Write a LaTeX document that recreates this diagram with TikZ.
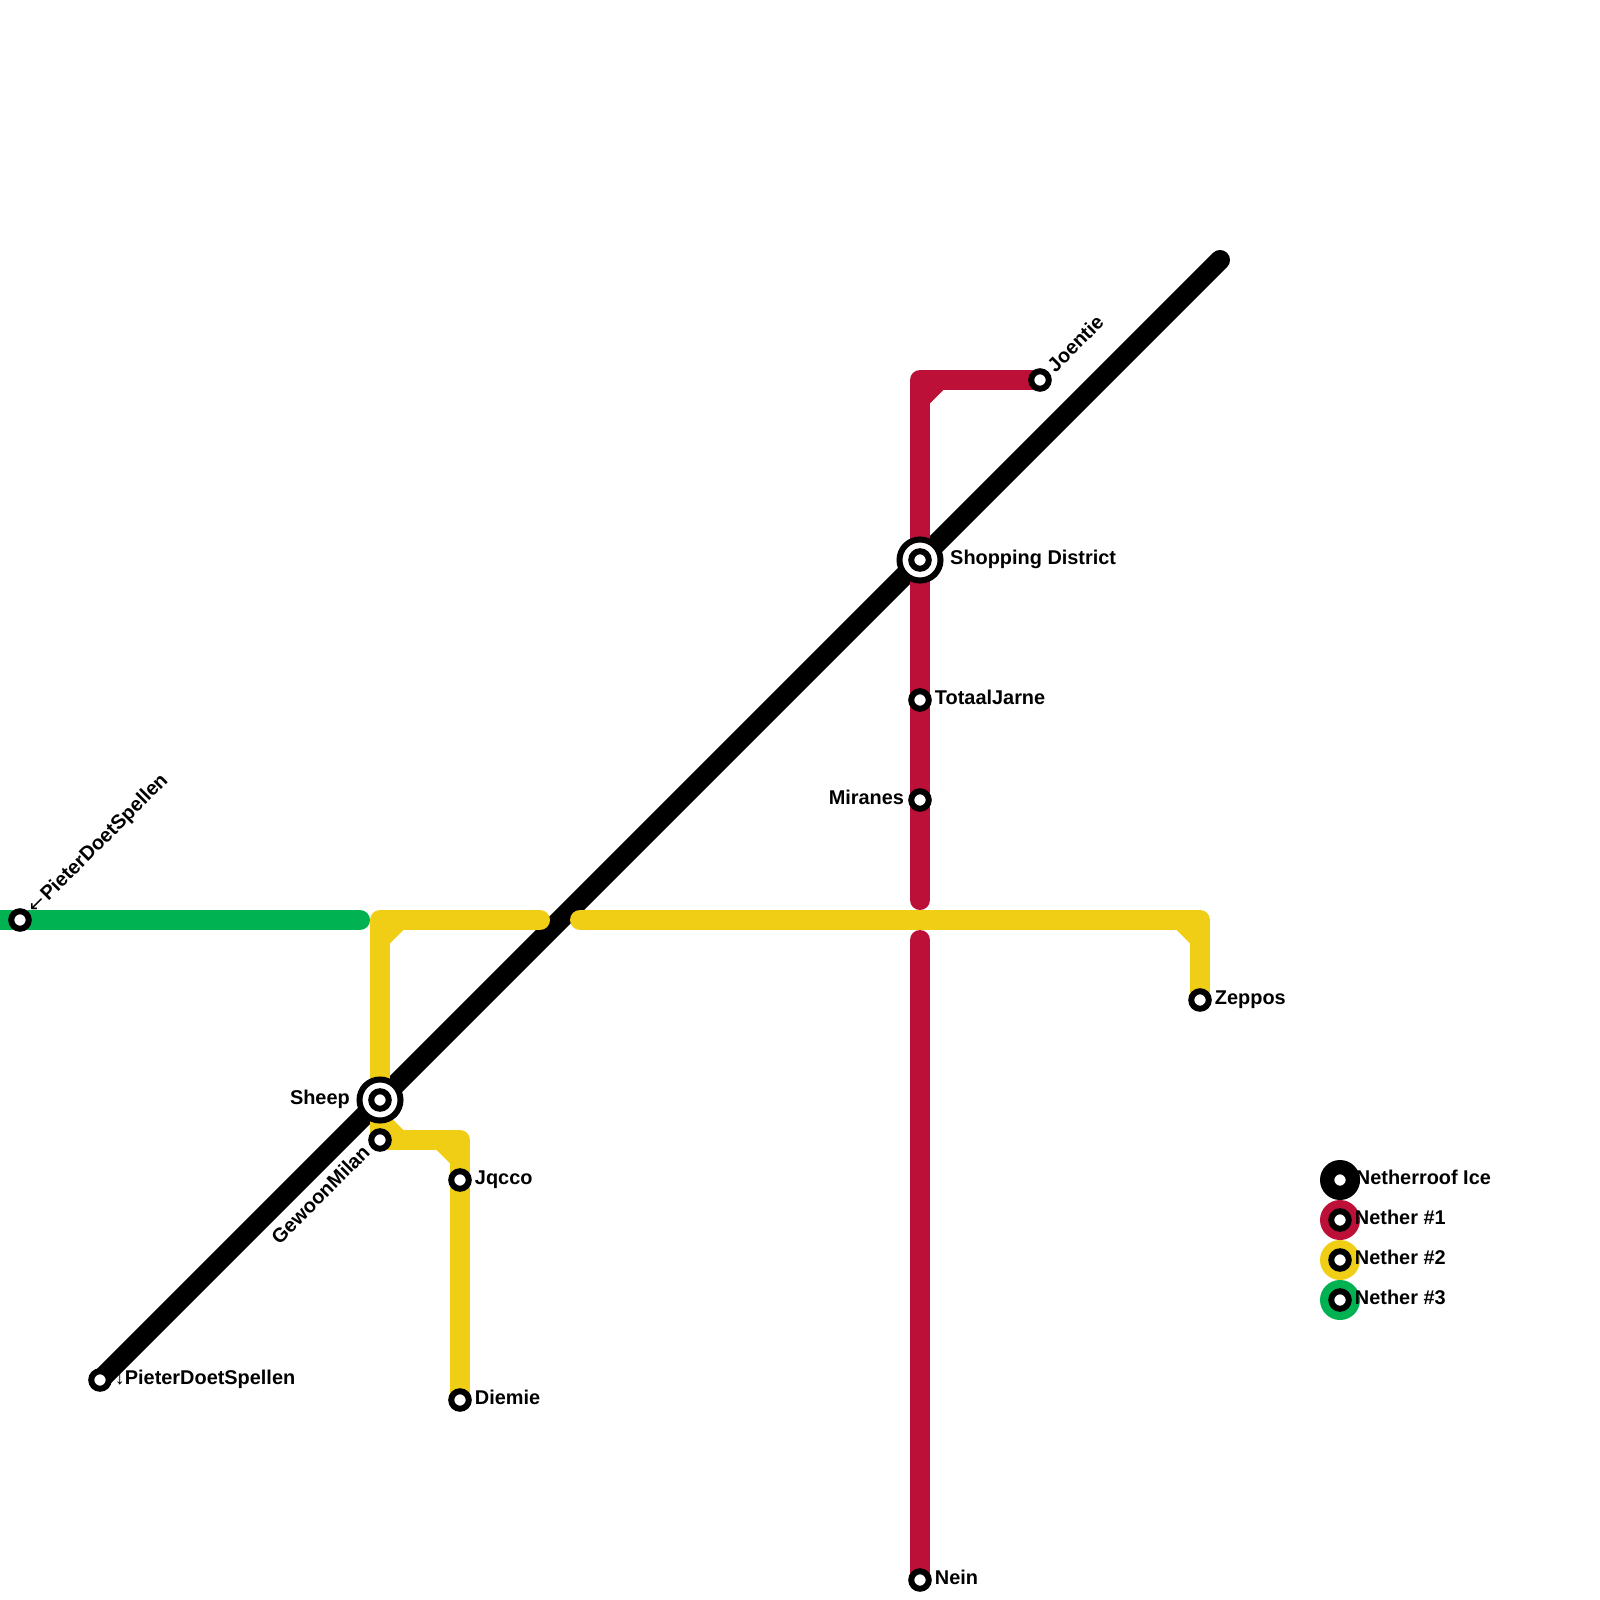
\documentclass[tikz,border=0pt]{standalone}
\usepackage{fontspec}
\setmainfont{Liberation Sans}
\newfontfamily\arrowfont{DejaVu Sans}
\usetikzlibrary{positioning, backgrounds}
\definecolor{netherred}{HTML}{BD1038}
\definecolor{netheryellow}{HTML}{F0CE15}
\definecolor{nethergreen}{HTML}{00B251}
\tikzstyle{station} = [circle,
minimum size=0.175cm,
inner sep=0pt,
line width=0.06cm,
draw=black,
fill=white]
\tikzstyle{interchange} = [circle,
minimum size=0.41cm,
inner sep=0pt,
line width=0.06cm,
draw=black,
fill=white]
\tikzstyle{legendring} = [circle,
minimum size=0.40cm,
inner sep=0pt]
\tikzstyle{maplabel} = [inner sep=0pt,
text height=0.145cm,
text depth=0.05cm,
font=\fontsize{5.66}{6}\selectfont\bfseries]
\tikzstyle{metroline} = [line width=0.2cm, line cap=round, line join=round]

\begin{document}
\begin{tikzpicture}[x=0.01cm, y=-0.01cm]
\useasboundingbox (0,0) rectangle (1600,1600);
\clip (0,0) rectangle (1600,1600);

% Line ends
\coordinate (greenstart) at (0,920);
\coordinate (greenend) at (360,920);
\coordinate (yellowwest) at (540,920);
\coordinate (yelloweast) at (580,920);
\coordinate (redupper) at (920,900);
\coordinate (redlower) at (920,940);
\coordinate (blackend) at (1220,260);

% Stations
\node (sheep) [interchange] at (380,1100) {};
\node (sheepdot) [station] at (sheep) {};
\node (shopping) [interchange] at (920,560) {};
\node (shoppingdot) [station] at (shopping) {};
\node (pieterwest) [station] at (20,920) {};
\node (pietersouth) [station] at (100,1380) {};
\node (gewoon) [station] at (380,1140) {};
\node (jqcco) [station] at (460,1180) {};
\node (diemie) [station] at (460,1400) {};
\node (joentie) [station] at (1040,380) {};
\node (totaal) [station] at (920,700) {};
\node (miranes) [station] at (920,800) {};
\node (nein) [station] at (920,1580) {};
\node (zeppos) [station] at (1200,1000) {};

% Lines
\begin{pgfonlayer}{background}
\draw [metroline, black] (pietersouth.center) -- (blackend);

\draw [metroline, netherred] (joentie.center) -| (redupper);
\draw [metroline, netherred] (redlower) -- (nein.center);
\fill [netherred] (930,390) -- (943.3,390) -- (930,403.3) -- cycle;

\draw [metroline, netheryellow] (sheep.center) |- (yellowwest);
\draw [metroline, netheryellow] (yelloweast) -| (zeppos.center);
\draw [metroline, netheryellow] (sheep.center) -- (gewoon.center) -| (diemie.center);
\fill [netheryellow] (390,930) -- (403.3,930) -- (390,943.3) -- cycle;
\fill [netheryellow] (1190,930) -- (1176.7,930) -- (1190,943.3) -- cycle;
\fill [netheryellow] (390,1130) -- (403.3,1130) -- (390,1116.7) -- cycle;
\fill [netheryellow] (450,1150) -- (436.7,1150) -- (450,1163.3) -- cycle;

\draw [metroline, nethergreen] (greenstart) -- (greenend);
\end{pgfonlayer}

% Labels
\node (sheeplabel) [maplabel, left=0.06cm of sheep] {Sheep};
\node (shoppinglabel) [maplabel, right=0.06cm of shopping] {Shopping District};
\node (pieterwestlabel) [maplabel, rotate=45, anchor=west, xshift=0.025cm, yshift=-0.025cm] at (pieterwest.45) {{\arrowfont\mdseries ←}\hspace{0.012cm}PieterDoetSpellen};
\node (pietersouthlabel) [maplabel, right=0.025cm of pietersouth] {{\mdseries ↓}PieterDoetSpellen};
\node (gewoonlabel) [maplabel, rotate=45, anchor=east, xshift=-0.035cm, yshift=0.015cm] at (gewoon.225) {GewoonMilan};
\node (jqccolabel) [maplabel, right=0.025cm of jqcco] {Jqcco};
\node (diemielabel) [maplabel, right=0.025cm of diemie] {Diemie};
\node (joentielabel) [maplabel, rotate=45, anchor=west, xshift=0.035cm, yshift=-0.015cm] at (joentie.45) {Joentie};
\node (totaallabel) [maplabel, right=0.025cm of totaal] {TotaalJarne};
\node (miraneslabel) [maplabel, left=0.035cm of miranes] {Miranes};
\node (neinlabel) [maplabel, right=0.025cm of nein] {Nein};
\node (zepposlabel) [maplabel, right=0.025cm of zeppos] {Zeppos};

% Legend
\node (legendice) [legendring, fill=black] at (1340,1180) {};
\node (legendone) [legendring, fill=netherred] at (1340,1220) {};
\node (legendtwo) [legendring, fill=netheryellow] at (1340,1260) {};
\node (legendthree) [legendring, fill=nethergreen] at (1340,1300) {};
\node (icedot) [station] at (legendice) {};
\node (onedot) [station] at (legendone) {};
\node (twodot) [station] at (legendtwo) {};
\node (threedot) [station] at (legendthree) {};
\node (icelabel) [maplabel, right=0.035cm of icedot] {Netherroof Ice};
\node (onelabel) [maplabel, right=0.025cm of onedot] {Nether \#1};
\node (twolabel) [maplabel, right=0.025cm of twodot] {Nether \#2};
\node (threelabel) [maplabel, right=0.025cm of threedot] {Nether \#3};

\end{tikzpicture}
\end{document}
